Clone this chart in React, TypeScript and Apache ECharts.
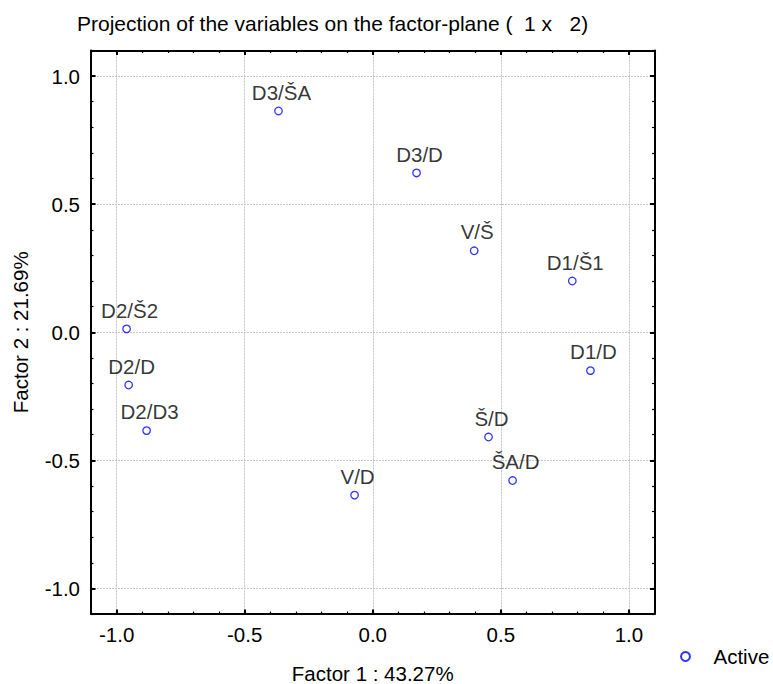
import React, { useEffect, useRef } from "react";
import * as echarts from "echarts";

const TITLE = "Projection of the variables on the factor-plane (  1 x   2)";
const X_NAME = "Factor 1 : 43.27%";
const Y_NAME = "Factor 2 : 21.69%";
const SERIES_NAME = "Active";

const varNames = ["D3/ŠA", "D3/D", "V/Š", "D1/Š1", "D1/D", "D2/Š2", "D2/D", "D2/D3", "Š/D", "ŠA/D", "V/D"];
const factor1 = [-0.368, 0.171, 0.396, 0.779, 0.850, -0.961, -0.953, -0.883, 0.452, 0.546, -0.071];
const factor2 = [0.864, 0.622, 0.318, 0.200, -0.150, 0.013, -0.206, -0.384, -0.409, -0.579, -0.636];

const AXIS_MIN = -1.1;
const AXIS_MAX = 1.1;
const MINOR_STEP = 0.1;
const FONT = "'Liberation Sans', Arial, sans-serif";
const FS = 20.5;

const fmt = (v: number) => {
  const r = Math.round(v * 10);
  if (r % 5 !== 0 || Math.abs(r) > 10) return "";
  return (r / 10).toFixed(1);
};

function minorAxis(position: string, withLabels: boolean, isY: boolean) {
  return {
    type: "value",
    position,
    min: AXIS_MIN,
    max: AXIS_MAX,
    interval: MINOR_STEP,
    axisLine: { show: true, onZero: false, lineStyle: { color: "#000", width: 2 } },
    axisTick: { show: true, inside: true, length: 2.5, lineStyle: { color: "#000", width: 1.2 } },
    axisLabel: withLabels
      ? {
          show: true,
          formatter: fmt,
          fontFamily: FONT,
          fontSize: FS,
          color: "#000",
          margin: isY ? 11 : 10,
          showMinLabel: true,
          showMaxLabel: true,
        }
      : { show: false },
    splitLine: { show: false },
  };
}

function majorAxis(position: string, withGrid: boolean) {
  return {
    type: "value",
    position,
    min: AXIS_MIN,
    max: AXIS_MAX,
    splitNumber: 4,
    axisLine: { show: false, onZero: false },
    axisTick: { show: true, inside: true, length: 4.5, lineStyle: { color: "#000", width: 2 } },
    axisLabel: { show: false },
    splitLine: withGrid
      ? {
          show: true,
          showMinLine: false,
          showMaxLine: false,
          lineStyle: { color: "#c4c4c4", width: 1, type: [2, 1] },
        }
      : { show: false },
  };
}

export default function App() {
  const ref = useRef<HTMLDivElement>(null);
  useEffect(() => {
    if (!ref.current) return;
    const chart = echarts.init(ref.current, undefined, { renderer: "svg" });
    const xA: any[] = [
      { ...minorAxis("bottom", true, false), name: X_NAME, nameLocation: "middle", nameGap: 49,
        nameTextStyle: { fontFamily: FONT, fontSize: FS, color: "#000", lineHeight: 20 } },
      minorAxis("top", false, false),
      majorAxis("bottom", true),
      majorAxis("top", false),
    ];
    const yA: any[] = [
      { ...minorAxis("left", true, true), name: Y_NAME, nameLocation: "middle", nameGap: 60, nameRotate: 90,
        nameTextStyle: { fontFamily: FONT, fontSize: FS, color: "#000" } },
      minorAxis("right", false, true),
      majorAxis("left", true),
      majorAxis("right", false),
    ];
    chart.setOption({
      animation: false,
      backgroundColor: "#fff",
      title: {
        text: TITLE,
        left: 77,
        top: 13,
        padding: 0,
        textStyle: { fontFamily: FONT, fontSize: 21, fontWeight: "normal", color: "#000" },
      },
      legend: {
        data: [SERIES_NAME],
        left: 680,
        top: 646,
        padding: 0,
        itemWidth: 46,
        itemHeight: 9,
        textStyle: { fontFamily: FONT, fontSize: FS, color: "#000" },
      },
      grid: { left: 91, top: 50.5, right: 118.5, bottom: 70, containLabel: false, outerBoundsMode: "none" },
      xAxis: xA,
      yAxis: yA,
      series: [
        {
          type: "scatter",
          name: SERIES_NAME,
          xAxisIndex: 0,
          yAxisIndex: 0,
          symbol: "circle",
          symbolSize: 7.5,
          itemStyle: { color: "#fff", borderColor: "#0000ff", borderWidth: 1.3 },
          label: {
            show: true,
            position: "top",
            distance: 4,
            offset: [3, 0],
            formatter: (p: any) => p.name,
            fontFamily: FONT,
            fontSize: FS,
            color: "#000",
          },
          emphasis: { disabled: true },
          data: varNames.map((n, i) => ({ name: n, value: [factor1[i], factor2[i]] })),
        },
      ],
    });
    return () => chart.dispose();
  }, []);
  return <div ref={ref} style={{ width: 773, height: 684, position: "absolute", left: 0, top: 0 }} />;
}
